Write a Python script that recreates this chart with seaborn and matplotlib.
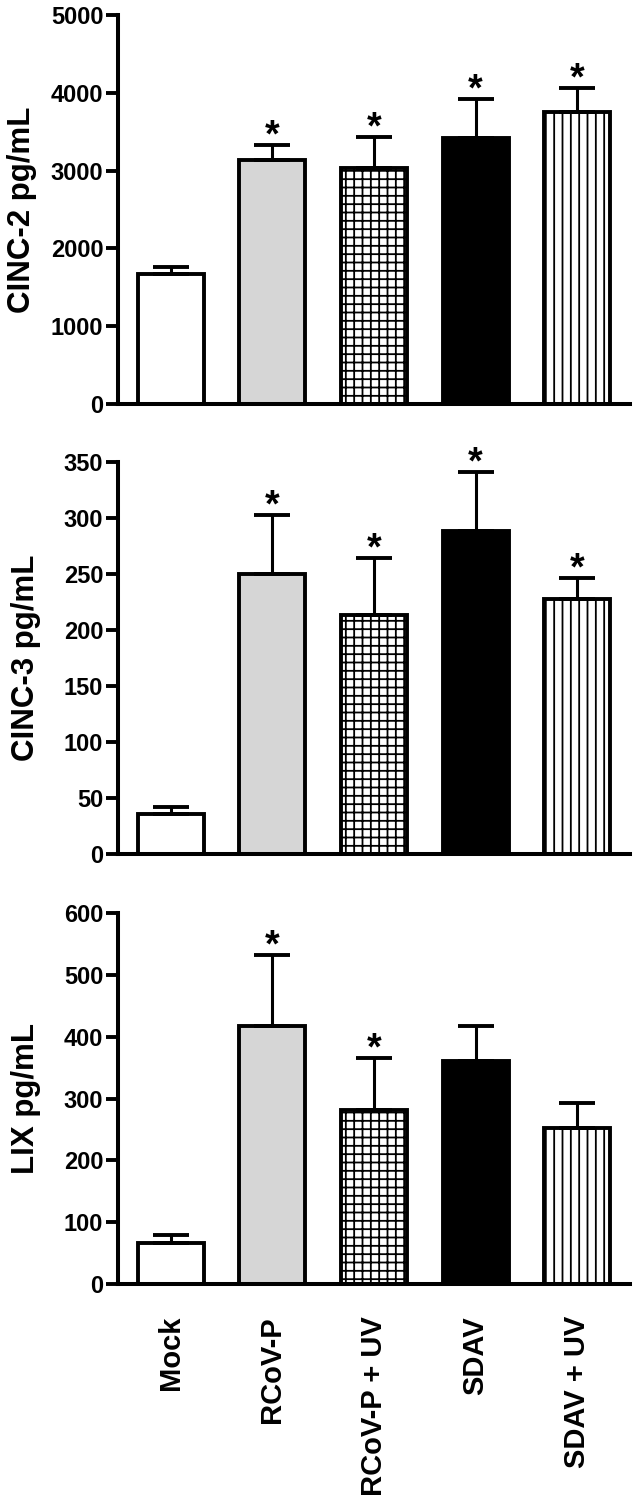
import numpy as np
import pandas as pd
import matplotlib
matplotlib.use("Agg")
import matplotlib.pyplot as plt
import seaborn as sns

# ---- data ----
categories = ["Mock", "RCoV-P", "RCoV-P + UV", "SDAV", "SDAV + UV"]

cinc2_mean = [1665, 3135, 3035, 3415, 3755]
cinc2_err = [95, 195, 395, 505, 310]
cinc2_sig = [False, True, True, True, True]

cinc3_mean = [36, 250, 213, 288, 228]
cinc3_err = [6, 53, 51, 53, 18]
cinc3_sig = [False, True, True, True, True]

lix_mean = [66, 417, 281, 361, 252]
lix_err = [13, 115, 84, 57, 41]
lix_sig = [False, True, True, False, False]

ylabels = ["CINC-2 pg/mL", "CINC-3 pg/mL", "LIX pg/mL"]
ylims = [5000, 350, 600]
ystep = [1000, 50, 100]

fills = ["white", "#d6d6d6", "white", "black", "white"]
hatches = [None, None, "++", None, "||"]

sns.set_style("ticks")
plt.rcParams["font.family"] = ["Liberation Sans", "DejaVu Sans"]
plt.rcParams["font.weight"] = "bold"
plt.rcParams["hatch.linewidth"] = 1.3
plt.rcParams["hatch.color"] = "black"
for key in ["text.color", "axes.labelcolor", "xtick.color", "ytick.color", "axes.edgecolor"]:
    plt.rcParams[key] = "black"

W, H = 639, 1507
fig = plt.figure(figsize=(W / 100, H / 100), dpi=100)

def frac_rect(top_px, bottom_px, left_px=118, right_px=630):
    return [left_px / W, 1 - bottom_px / H, (right_px - left_px) / W, (bottom_px - top_px) / H]

rects = [frac_rect(15, 404), frac_rect(462, 854), frac_rect(913, 1284)]
panels = [(cinc2_mean, cinc2_err, cinc2_sig), (cinc3_mean, cinc3_err, cinc3_sig),
          (lix_mean, lix_err, lix_sig)]
label_x = [-0.158, -0.150, -0.150]

for i, (rect, (means, errs, sig)) in enumerate(zip(rects, panels)):
    ax = fig.add_axes(rect)
    df = pd.DataFrame({"cat": categories, "val": means})
    sns.barplot(data=df, x="cat", y="val", hue="cat", palette=fills, legend=False,
                order=categories, hue_order=categories, width=0.65,
                edgecolor="black", linewidth=2.8, errorbar=None, ax=ax, saturation=1)
    k = 0
    for cont in ax.containers:
        for p in cont:
            h = hatches[k]
            if h:
                p.set_hatch(h)
            p.set_edgecolor("black")
            k += 1
    xs = np.arange(len(categories))
    ax.errorbar(xs, means, yerr=[np.zeros(len(errs)), errs], fmt="none",
                ecolor="black", elinewidth=2.2, capsize=13.3, capthick=2.8, zorder=1)
    for x, m, e, s in zip(xs, means, errs, sig):
        if s:
            ax.annotate("*", (x, m + e), xytext=(0, -1), textcoords="offset points",
                        ha="center", va="baseline", fontsize=27, fontweight="bold",
                        color="black")
    ax.set_xlim(-0.52, 4.52)
    ax.set_ylim(0, ylims[i])
    ax.set_yticks(np.arange(0, ylims[i] + 1, ystep[i]))
    ax.tick_params(axis="y", length=8.6, width=2.8, labelsize=17, pad=2, colors="black")
    for t in ax.get_yticklabels():
        t.set_fontweight("bold")
    sns.despine(ax=ax)
    for s_ in ["left", "bottom"]:
        ax.spines[s_].set_linewidth(2.9)
        ax.spines[s_].set_color("black")
    ax.set_ylabel(ylabels[i], fontsize=22.5, fontweight="bold", color="black")
    ax.yaxis.set_label_coords(label_x[i], 0.5)
    ax.set_xlabel("")
    if i < 2:
        ax.set_xticks(xs)
        ax.set_xticklabels([])
        ax.tick_params(axis="x", length=0)
    else:
        ax.set_xticks(xs)
        ax.set_xticklabels(categories, rotation=90, fontsize=21, fontweight="bold")
        ax.tick_params(axis="x", length=0, pad=23, colors="black")

fig.savefig("out.png", dpi=100)
